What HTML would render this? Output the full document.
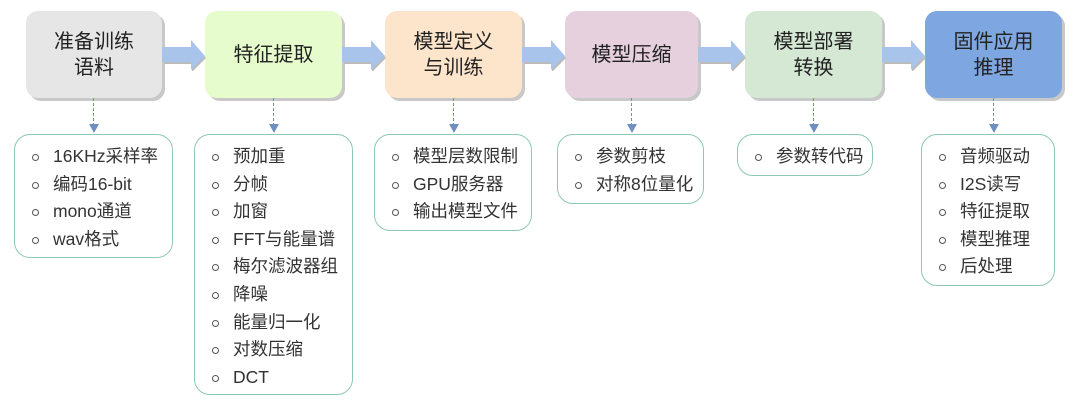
<!DOCTYPE html>
<html><head><meta charset="utf-8"><style>
body{margin:0;width:1080px;height:408px;background:#fff;position:relative;overflow:hidden;font-family:"Liberation Sans","Noto Sans CJK SC",sans-serif;color:#222}
.b{position:absolute;top:11px;height:87px;border-radius:12px;display:flex;align-items:center;justify-content:center;text-align:center;font-size:20px;line-height:26px;box-shadow:3px 3px 0 #c8c8c8}
.l{position:absolute;top:134px;border:1.5px solid #8cc8b4;border-radius:16px;box-sizing:border-box;padding:8px 0 0 0}
.l div{position:relative;height:27.6px;line-height:27.6px;font-size:17.5px;color:#333;padding-left:38px;white-space:nowrap}
.l div:before{content:"";position:absolute;left:17px;top:11px;width:5px;height:5px;border:1.3px solid #555;border-radius:50%}
.a{position:absolute;top:39px}
.d{position:absolute;top:98px;width:0;height:28px;border-left:1.5px dashed #6f8fc0}
.h{position:absolute;top:124px;width:0;height:0;border-left:5px solid transparent;border-right:5px solid transparent;border-top:9px solid #6f8fc0}
</style></head><body>
<div class="b" style="left:26px;width:136px;background:#e6e6e6">准备训练<br>语料</div>
<div class="b" style="left:205px;width:137px;background:#e6fccc">特征提取</div>
<div class="b" style="left:385px;width:137px;background:#fde5cc">模型定义<br>与训练</div>
<div class="b" style="left:565px;width:133px;background:#e6d0de">模型压缩</div>
<div class="b" style="left:745px;width:137px;background:#d5e8d4">模型部署<br>转换</div>
<div class="b" style="left:925px;width:137px;background:#7ea6e0">固件应用<br>推理</div>

<svg class="a" style="left:162px" width="46" height="32"><polygon points="2,10 30,10 30,3 44,19 30,33 30,25 2,25" fill="#bbb"/><polygon points="0,8 29,8 29,1 43,17 29,31 29,23 0,23" fill="#a9c4eb"/></svg>
<svg class="a" style="left:342px" width="46" height="32"><polygon points="2,10 30,10 30,3 44,19 30,33 30,25 2,25" fill="#bbb"/><polygon points="0,8 29,8 29,1 43,17 29,31 29,23 0,23" fill="#a9c4eb"/></svg>
<svg class="a" style="left:522px" width="46" height="32"><polygon points="2,10 30,10 30,3 44,19 30,33 30,25 2,25" fill="#bbb"/><polygon points="0,8 29,8 29,1 43,17 29,31 29,23 0,23" fill="#a9c4eb"/></svg>
<svg class="a" style="left:698px" width="50" height="32"><polygon points="2,10 34,10 34,3 48,19 34,33 34,25 2,25" fill="#bbb"/><polygon points="0,8 33,8 33,1 47,17 33,31 33,23 0,23" fill="#a9c4eb"/></svg>
<svg class="a" style="left:882px" width="46" height="32"><polygon points="2,10 30,10 30,3 44,19 30,33 30,25 2,25" fill="#bbb"/><polygon points="0,8 29,8 29,1 43,17 29,31 29,23 0,23" fill="#a9c4eb"/></svg>

<div class="d" style="left:93px"></div><div class="h" style="left:89px"></div>
<div class="d" style="left:273px"></div><div class="h" style="left:269px"></div>
<div class="d" style="left:453px"></div><div class="h" style="left:449px"></div>
<div class="d" style="left:631px"></div><div class="h" style="left:627px"></div>
<div class="d" style="left:813px"></div><div class="h" style="left:809px"></div>
<div class="d" style="left:993px"></div><div class="h" style="left:989px"></div>

<div class="l" style="left:14px;width:159px;height:124px"><div>16KHz采样率</div><div>编码16-bit</div><div>mono通道</div><div>wav格式</div></div>
<div class="l" style="left:194px;width:159px;height:261px"><div>预加重</div><div>分帧</div><div>加窗</div><div>FFT与能量谱</div><div>梅尔滤波器组</div><div>降噪</div><div>能量归一化</div><div>对数压缩</div><div>DCT</div></div>
<div class="l" style="left:374px;width:158px;height:97px"><div>模型层数限制</div><div>GPU服务器</div><div>输出模型文件</div></div>
<div class="l" style="left:557px;width:147px;height:70px"><div>参数剪枝</div><div>对称8位量化</div></div>
<div class="l" style="left:737px;width:136px;height:42px"><div>参数转代码</div></div>
<div class="l" style="left:921px;width:134px;height:152px"><div>音频驱动</div><div>I2S读写</div><div>特征提取</div><div>模型推理</div><div>后处理</div></div>
</body></html>
